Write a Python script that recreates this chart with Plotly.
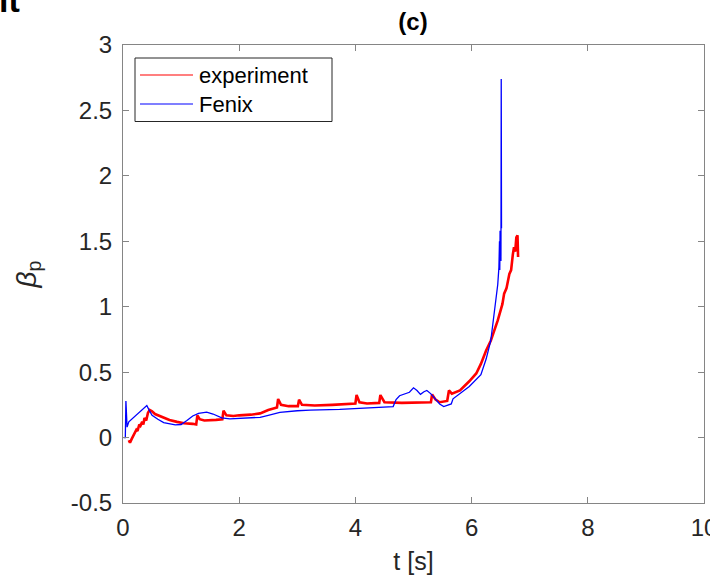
import plotly.graph_objects as go

# experiment (red)
exp_t = [0.10, 0.12, 0.15, 0.18, 0.20, 0.23, 0.25, 0.28, 0.30, 0.33, 0.35, 0.37, 0.40, 0.43, 0.46,
         0.50, 0.55, 0.60, 0.70, 0.80, 0.93, 1.05, 1.20, 1.26, 1.28, 1.32, 1.40, 1.50, 1.60, 1.71,
         1.73, 1.78, 1.90, 2.00, 2.20, 2.36, 2.50, 2.65, 2.67, 2.72, 2.85, 3.01, 3.03, 3.08, 3.30,
         3.60, 3.82, 4.00, 4.02, 4.07, 4.20, 4.41, 4.43, 4.50, 4.80, 5.00, 5.30, 5.32, 5.38, 5.45,
         5.58, 5.61, 5.66, 5.80, 5.90, 5.96, 6.08, 6.16, 6.25, 6.33, 6.45, 6.53, 6.56, 6.60, 6.65,
         6.68, 6.71, 6.73, 6.75, 6.77, 6.79, 6.80]
exp_v = [-0.02, -0.04, -0.01, 0.02, 0.03, 0.06, 0.05, 0.10, 0.09, 0.12, 0.10, 0.15, 0.13, 0.19, 0.21,
         0.20, 0.18, 0.17, 0.15, 0.135, 0.12, 0.11, 0.105, 0.10, 0.17, 0.14, 0.13, 0.13, 0.135, 0.14,
         0.205, 0.17, 0.165, 0.17, 0.175, 0.185, 0.21, 0.23, 0.295, 0.25, 0.24, 0.24, 0.29, 0.25, 0.245,
         0.25, 0.257, 0.26, 0.325, 0.27, 0.26, 0.265, 0.325, 0.27, 0.265, 0.268, 0.27, 0.33, 0.29, 0.27,
         0.28, 0.36, 0.335, 0.36, 0.40, 0.43, 0.49, 0.563, 0.665, 0.74, 0.895, 1.02, 1.10, 1.14, 1.25,
         1.28, 1.40, 1.455, 1.42, 1.53, 1.545, 1.38]

# Fenix (blue)
fen_t = [0.01, 0.04, 0.05, 0.07, 0.10, 0.20, 0.30, 0.41, 0.45, 0.50, 0.60, 0.70, 0.90, 1.00, 1.10,
         1.20, 1.30, 1.44, 1.55, 1.70, 1.84, 2.00, 2.36, 2.50, 2.70, 3.00, 3.22, 3.73, 4.07, 4.65,
         4.70, 4.76, 4.93, 5.00, 5.06, 5.12, 5.18, 5.23, 5.30, 5.45, 5.52, 5.65, 5.68, 5.96, 6.16,
         6.25, 6.33, 6.42, 6.45, 6.47, 6.48, 6.485, 6.49, 6.495, 6.50, 6.505, 6.51, 6.515]
fen_v = [0.0, 0.0, 0.28, 0.08, 0.12, 0.16, 0.20, 0.245, 0.21, 0.17, 0.14, 0.115, 0.097, 0.10, 0.13,
         0.165, 0.185, 0.195, 0.18, 0.15, 0.143, 0.145, 0.155, 0.17, 0.193, 0.205, 0.21, 0.215, 0.224, 0.237,
         0.29, 0.32, 0.346, 0.38, 0.36, 0.33, 0.35, 0.36, 0.334, 0.257, 0.237, 0.257, 0.296, 0.39, 0.48,
         0.60, 0.74, 1.05, 1.17, 1.30, 1.50, 1.28, 1.58, 1.30, 1.52, 1.35, 2.74, 1.60]

x_ticks = [0, 2, 4, 6, 8, 10]
y_ticks = [-0.5, 0, 0.5, 1, 1.5, 2, 2.5, 3]
series_names = ["experiment", "Fenix"]
series_colors = ["#ff0000", "#0000ff"]

FONT = "Liberation Sans, Arial, sans-serif"
TXT = "#262626"
AX = "#858585"

W, H = 710, 578
ML, MR, MT, MB = 123, 6, 45, 75
PW, PH = W - ML - MR, H - MT - MB


def px_x(px):
    return (px - ML) / PW


def px_y(py):
    return (H - MB - py) / PH


fig = go.Figure()
fig.add_trace(go.Scatter(x=exp_t, y=exp_v, mode="lines", name=series_names[0], showlegend=False,
                         line=dict(color=series_colors[0], width=2.6)))
fig.add_trace(go.Scatter(x=fen_t, y=fen_v, mode="lines", name=series_names[1], showlegend=False,
                         line=dict(color=series_colors[1], width=1.3)))

axis_common = dict(showgrid=False, zeroline=False, showline=True, linecolor=AX, linewidth=1,
                   mirror="ticks", ticks="inside", ticklen=6, tickcolor=AX,
                   ticklabeloverflow="allow", automargin=False,
                   tickfont=dict(family=FONT, size=24, color=TXT))

fig.update_layout(
    width=W, height=H,
    margin=dict(l=ML, r=MR, t=MT, b=MB, autoexpand=False),
    paper_bgcolor="white", plot_bgcolor="white",
    font=dict(family=FONT, color=TXT),
    title=dict(text="<b>(c)</b>", x=413 / W, xanchor="center", y=1 - 22 / H, yanchor="middle",
               font=dict(family=FONT, size=24, color="black")),
    xaxis=dict(range=[0, 10], tickvals=x_ticks, ticktext=[str(v) for v in x_ticks],
               ticklabelstandoff=3,
               title=dict(text="t [s]", font=dict(family=FONT, size=25, color=TXT), standoff=12),
               **axis_common),
    yaxis=dict(range=[-0.5, 3], tickvals=y_ticks, ticktext=[f"{v:g}" for v in y_ticks],
               ticklabelstandoff=5,
               title=dict(text="<i>β</i><sub>p</sub>", font=dict(family=FONT, size=28, color=TXT), standoff=26),
               **axis_common),
    showlegend=False,
)

# legend box drawn manually (MATLAB style)
fig.add_shape(type="rect", xref="paper", yref="paper",
              x0=px_x(135), x1=px_x(332), y0=px_y(121.5), y1=px_y(58),
              line=dict(color="#262626", width=1), fillcolor="white", layer="above")
row_y = [75, 104]
for name, col, ry in zip(series_names, series_colors, row_y):
    fig.add_shape(type="line", xref="paper", yref="paper",
                  x0=px_x(140), x1=px_x(193), y0=px_y(ry), y1=px_y(ry),
                  line=dict(color=col, width=1.2), layer="above")
    fig.add_annotation(text=name, xref="paper", yref="paper", x=px_x(197), y=px_y(ry),
                       xanchor="left", yanchor="middle", showarrow=False,
                       font=dict(family=FONT, size=22, color="black"))

fig.add_annotation(text="<b>it</b>", xref="paper", yref="paper", x=px_x(-3), y=px_y(21),
                   xanchor="left", yanchor="bottom", showarrow=False,
                   font=dict(family=FONT, size=34, color="black"))

fig.write_html("out.html")
